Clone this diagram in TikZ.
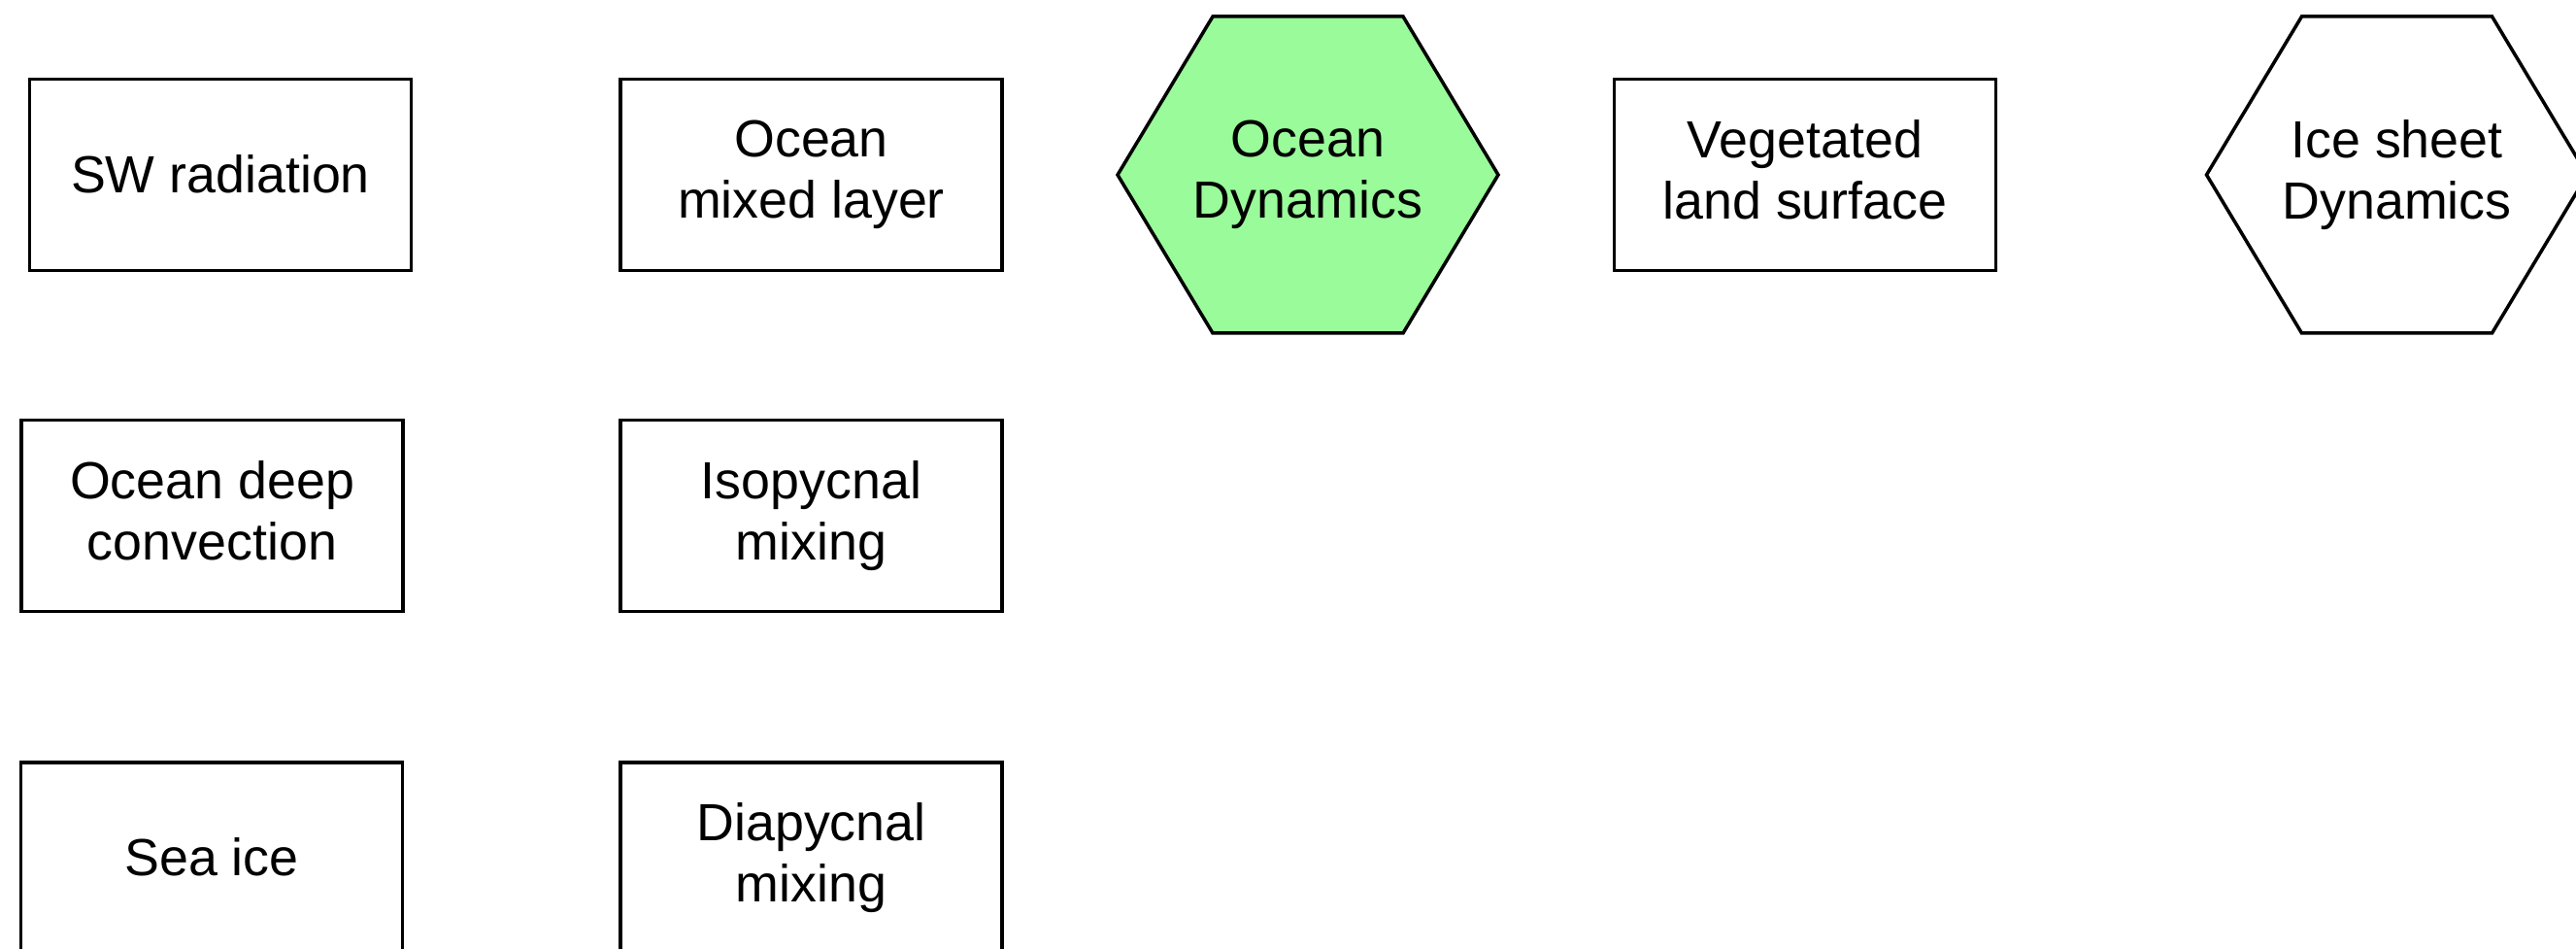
\documentclass[tikz,border=0pt]{standalone}
\usepackage{fontspec}
\setmainfont{Liberation Sans}
\usetikzlibrary{backgrounds}
\definecolor{hexgreen}{RGB}{153,251,153}
\begin{document}
\begin{tikzpicture}[font=\fontsize{15.3}{17.9}\selectfont,
  every node/.style={execute at begin node={\rule{0pt}{13.7pt}},execute at end node={\rule[-3.3pt]{0pt}{0pt}}},
  proc/.style={draw,line width=1pt,minimum width=3.93cm,minimum height=1.97cm,align=center,inner sep=0},
  hexlabel/.style={align=center,inner sep=0},
  hexline/.style={line width=1pt,line join=miter}]
\useasboundingbox (0,0) rectangle (26.53,-9.77);
\node[proc] at (2.27,-1.80)(sw){SW radiation};
\node[proc] at (8.355,-1.80)(oml){Ocean\\mixed layer};
\node[proc] at (18.59,-1.80)(veg){Vegetated\\land surface};
\node[proc] at (2.185,-5.31)(odc){Ocean deep\\convection};
\node[proc] at (8.355,-5.31)(iso){Isopycnal\\mixing};
\node[proc] at (2.18,-8.835)(seaice){Sea ice};
\node[proc] at (8.355,-8.835)(dia){Diapycnal\\mixing};
\node[hexlabel] at (13.47,-1.80)(ocdyn){Ocean\\Dynamics};
\node[hexlabel] at (24.685,-1.80)(icedyn){Ice sheet\\Dynamics};
% hexagons behind the labels
\begin{scope}[on background layer]
\foreach \n/\c in {ocdyn/hexgreen,icedyn/white}{
    \filldraw[hexline,fill=\c] ([xshift=-1.96cm]\n.center) -- ++(0.98,1.63) -- ++(1.96,0) -- ++(0.98,-1.63) -- ++(-0.98,-1.63) -- ++(-1.96,0) -- cycle;
}
\end{scope}
\end{tikzpicture}
\end{document}
